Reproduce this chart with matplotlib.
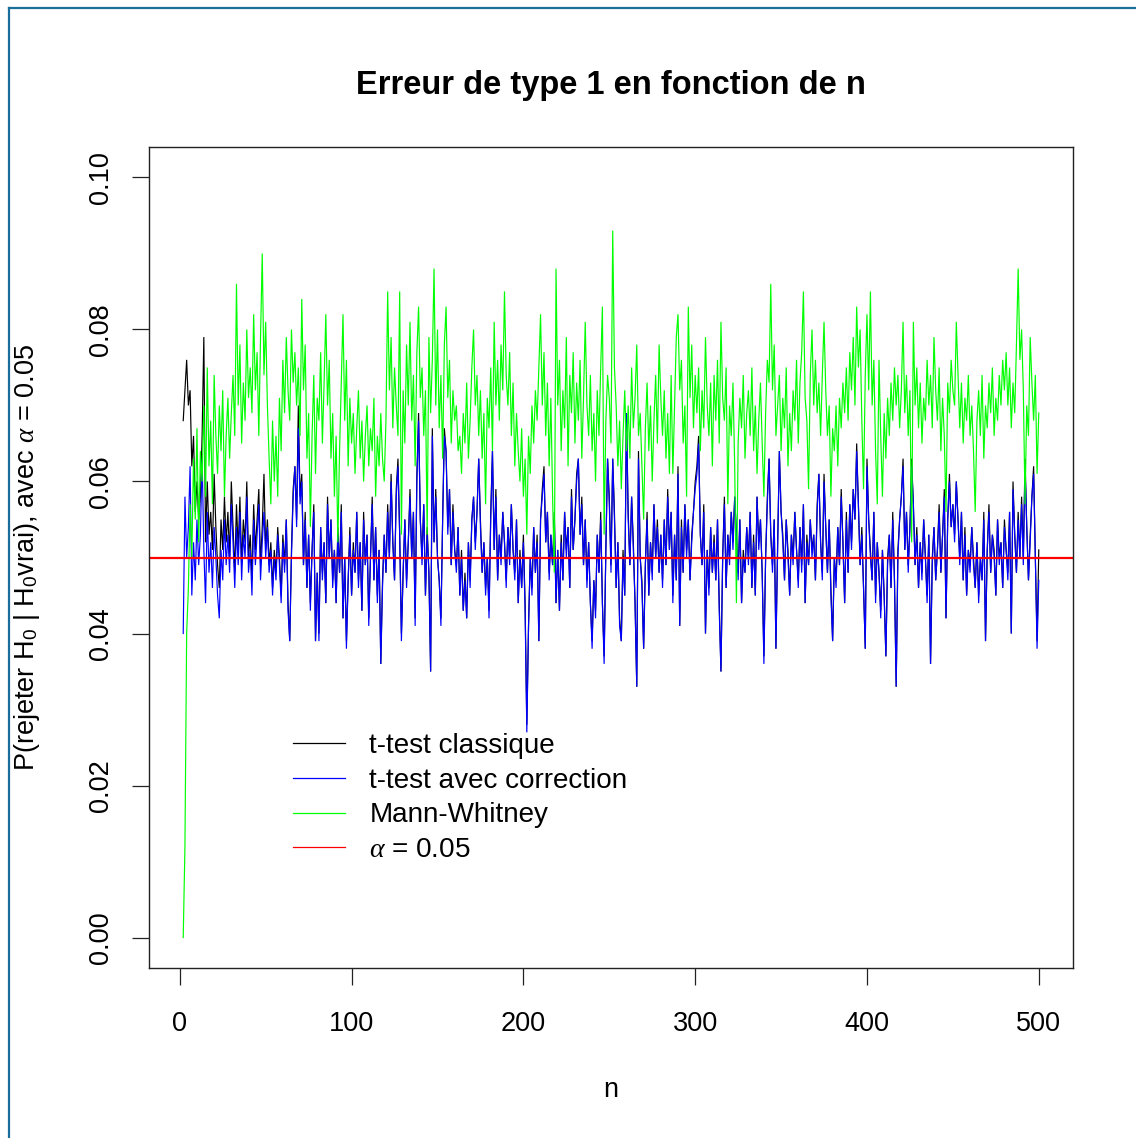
import numpy as np
import matplotlib
matplotlib.use("Agg")
import matplotlib.pyplot as plt
from matplotlib.lines import Line2D

plt.rcParams['font.family'] = ['Liberation Sans', 'DejaVu Sans']
plt.rcParams['mathtext.fontset'] = 'custom'
plt.rcParams['mathtext.rm'] = 'Liberation Sans'
plt.rcParams['mathtext.it'] = 'Liberation Serif:italic'
plt.rcParams['mathtext.bf'] = 'Liberation Sans:bold'

# ---- data (rejection rates per 1000 simulations, n = 2 .. 500) ----
mann_whitney = [
    0, 12, 40, 46, 57, 50, 63, 55, 67,
    52, 64, 60, 70, 58, 75, 62, 68, 57, 74,
    66, 61, 70, 64, 72, 58, 66, 71, 63, 69,
    74, 66, 86, 70, 78, 65, 73, 68, 80, 71,
    75, 69, 82, 72, 77, 66, 79, 90, 74, 81,
    70, 63, 57, 68, 60, 66, 58, 71, 64, 76,
    69, 79, 72, 68, 80, 73, 77, 70, 75, 66,
    84, 72, 78, 63, 69, 54, 66, 74, 61, 71,
    68, 77, 65, 73, 82, 70, 76, 63, 69, 58,
    66, 52, 64, 73, 82, 68, 76, 62, 71, 65,
    69, 61, 67, 72, 63, 68, 60, 66, 70, 62,
    67, 64, 71, 58, 66, 62, 69, 63, 60, 68,
    85, 72, 79, 67, 75, 70, 66, 85, 53, 72,
    65, 78, 70, 81, 68, 74, 62, 77, 83, 71,
    75, 66, 72, 53, 79, 69, 76, 88, 70, 80,
    67, 74, 63, 78, 83, 71, 76, 65, 72, 68,
    70, 64, 66, 61, 69, 65, 73, 63, 68, 75,
    80, 70, 74, 66, 72, 63, 69, 57, 71, 67,
    75, 64, 81, 70, 76, 68, 78, 72, 85, 74,
    70, 77, 66, 73, 62, 69, 64, 60, 67, 58,
    63, 53, 66, 61, 70, 65, 72, 68, 75, 82,
    70, 77, 66, 73, 62, 71, 58, 48, 88, 70,
    76, 64, 72, 67, 79, 62, 74, 69, 77, 65,
    73, 68, 76, 63, 71, 81, 70, 66, 74, 64,
    69, 60, 72, 66, 75, 83, 53, 68, 74, 71,
    65, 93, 75, 70, 62, 68, 59, 66, 72, 64,
    70, 63, 75, 67, 71, 78, 66, 69, 62, 55,
    67, 73, 64, 70, 60, 68, 74, 65, 78, 71,
    66, 72, 63, 69, 61, 74, 61, 70, 79, 82,
    72, 76, 65, 70, 58, 83, 71, 78, 67, 74,
    69, 75, 64, 72, 67, 79, 70, 66, 73, 62,
    74, 68, 76, 65, 81, 71, 68, 75, 57, 70,
    66, 73, 62, 44, 65, 71, 67, 74, 63, 69,
    72, 66, 75, 64, 70, 61, 68, 73, 65, 58,
    69, 76, 73, 86, 72, 78, 66, 70, 74, 64,
    71, 67, 75, 62, 69, 64, 72, 68, 76, 65,
    73, 77, 85, 71, 68, 59, 74, 80, 70, 76,
    69, 73, 66, 74, 81, 72, 66, 70, 58, 67,
    64, 70, 62, 71, 67, 73, 69, 75, 68, 77,
    72, 79, 70, 83, 75, 80, 68, 59, 74, 82,
    72, 85, 70, 76, 64, 57, 76, 66, 58, 69,
    63, 71, 66, 73, 68, 75, 70, 74, 67, 72,
    81, 69, 74, 66, 72, 52, 81, 70, 75, 67,
    73, 65, 71, 68, 76, 70, 74, 67, 79, 72,
    68, 75, 64, 71, 66, 56, 73, 69, 76, 72,
    70, 81, 74, 67, 73, 65, 71, 68, 74, 66,
    70, 64, 56, 68, 72, 66, 74, 63, 70, 67,
    73, 69, 75, 66, 71, 68, 74, 70, 76, 72,
    77, 70, 75, 67, 73, 69, 78, 88, 76, 80,
    72, 57, 70, 66, 79, 73, 68, 74, 61, 69,
]

t_correction = [
    40, 58, 50, 54, 62, 45, 52, 47, 55,
    49, 53, 63, 51, 44, 56, 48, 52, 46, 54,
    50, 45, 42, 51, 47, 55, 49, 53, 48, 57,
    52, 46, 54, 49, 56, 47, 53, 50, 58, 48,
    51, 45, 55, 49, 53, 57, 47, 52, 56, 50,
    54, 48, 51, 45, 50, 47, 53, 49, 44, 52,
    48, 55, 43, 39, 50, 58, 62, 54, 67, 57,
    60, 49, 55, 46, 53, 43, 51, 56, 39, 48,
    39, 54, 47, 52, 44, 57, 50, 55, 46, 51,
    44, 53, 48, 56, 42, 50, 38, 47, 53, 45,
    51, 48, 56, 46, 52, 43, 55, 49, 53, 41,
    50, 57, 47, 54, 44, 51, 36, 46, 53, 48,
    56, 50, 60, 52, 47, 58, 62, 53, 39, 48,
    55, 46, 52, 58, 50, 56, 41, 60, 68, 55,
    49, 57, 45, 53, 48, 35, 66, 52, 58, 50,
    47, 41, 55, 66, 64, 53, 59, 49, 56, 51,
    48, 54, 45, 50, 43, 47, 42, 52, 46, 55,
    58, 51, 56, 63, 54, 48, 52, 45, 50, 42,
    55, 64, 51, 58, 47, 53, 49, 56, 52, 46,
    54, 49, 57, 51, 47, 55, 44, 50, 46, 52,
    43, 27, 41, 50, 45, 54, 48, 52, 39, 55,
    58, 61, 52, 56, 47, 53, 49, 55, 44, 51,
    43, 52, 47, 56, 50, 54, 46, 58, 51, 55,
    60, 63, 53, 57, 49, 55, 46, 52, 44, 38,
    47, 42, 53, 48, 55, 44, 36, 51, 63, 57,
    48, 63, 55, 46, 52, 41, 39, 50, 45, 69,
    55, 49, 58, 51, 44, 33, 63, 50, 46, 38,
    49, 55, 45, 52, 47, 57, 50, 54, 48, 53,
    46, 55, 49, 58, 51, 56, 44, 53, 47, 61,
    41, 54, 48, 57, 50, 55, 47, 52, 56, 59,
    61, 65, 53, 49, 56, 40, 51, 45, 54, 48,
    52, 47, 55, 43, 35, 50, 57, 46, 53, 49,
    56, 51, 58, 53, 47, 55, 44, 50, 48, 54,
    49, 56, 46, 52, 45, 58, 51, 55, 48, 36,
    50, 57, 63, 53, 48, 55, 38, 51, 64, 56,
    52, 47, 55, 50, 45, 53, 49, 56, 51, 46,
    54, 48, 57, 44, 52, 49, 55, 50, 53, 47,
    56, 61, 52, 47, 60, 54, 48, 55, 45, 39,
    50, 46, 54, 49, 58, 52, 44, 55, 48, 57,
    51, 59, 55, 64, 57, 49, 53, 46, 38, 62,
    55, 50, 47, 56, 44, 52, 48, 42, 51, 45,
    37, 49, 53, 46, 55, 47, 33, 50, 55, 58,
    62, 51, 56, 48, 54, 62, 57, 49, 53, 46,
    52, 47, 55, 50, 44, 53, 36, 49, 54, 47,
    51, 56, 48, 53, 58, 42, 55, 60, 54, 57,
    52, 60, 55, 49, 56, 47, 53, 45, 51, 48,
    54, 49, 46, 52, 44, 50, 47, 55, 39, 51,
    56, 48, 53, 50, 45, 55, 49, 52, 46, 54,
    51, 47, 56, 40, 59, 53, 48, 55, 50, 57,
    49, 62, 54, 47, 52, 58, 61, 50, 38, 47,
]

t_classique = [
    68, 72, 76, 70, 72, 62, 66, 56, 60,
    55, 58, 66, 79, 52, 60, 53, 56, 51, 61,
    54, 49, 46, 55, 51, 58, 52, 56, 50, 60,
    54, 48, 57, 51, 58, 49, 55, 52, 60, 50,
    53, 47, 57, 51, 55, 59, 49, 54, 61, 51,
    55, 49, 52, 46, 51, 48, 54, 50, 45, 53,
    49, 55, 44, 39, 51, 59, 62, 55, 70, 58,
    61, 49, 56, 46, 53, 44, 51, 57, 39, 48,
    40, 54, 48, 52, 44, 58, 50, 55, 47, 51,
    44, 54, 48, 57, 42, 50, 39, 47, 54, 45,
    52, 48, 56, 47, 52, 43, 56, 49, 53, 42,
    50, 58, 47, 54, 45, 51, 36, 47, 53, 48,
    57, 50, 61, 52, 47, 59, 63, 53, 40, 48,
    55, 47, 52, 59, 50, 56, 42, 61, 69, 55,
    50, 57, 45, 54, 48, 35, 67, 52, 59, 50,
    47, 42, 55, 67, 64, 54, 59, 49, 57, 51,
    49, 54, 45, 51, 43, 48, 42, 52, 47, 55,
    58, 52, 56, 63, 55, 48, 52, 46, 50, 43,
    56, 64, 51, 59, 47, 53, 50, 56, 52, 47,
    54, 50, 57, 51, 48, 55, 44, 51, 46, 53,
    44, 28, 41, 50, 46, 54, 48, 53, 39, 55,
    59, 62, 52, 56, 48, 53, 49, 56, 44, 51,
    43, 53, 47, 56, 51, 54, 46, 59, 51, 55,
    61, 63, 53, 58, 49, 55, 47, 52, 44, 39,
    47, 43, 53, 48, 56, 44, 37, 51, 63, 58,
    49, 63, 56, 46, 52, 42, 39, 51, 45, 69,
    56, 49, 58, 52, 44, 33, 64, 50, 47, 38,
    49, 56, 45, 52, 48, 57, 50, 55, 48, 53,
    47, 55, 49, 59, 51, 56, 45, 53, 47, 62,
    41, 55, 48, 57, 51, 55, 47, 53, 56, 60,
    62, 66, 53, 49, 57, 40, 51, 46, 54, 48,
    53, 47, 55, 44, 35, 50, 58, 46, 53, 50,
    56, 52, 58, 53, 48, 55, 44, 51, 48, 54,
    50, 56, 46, 53, 45, 58, 52, 55, 48, 37,
    50, 58, 63, 53, 49, 55, 38, 52, 64, 56,
    53, 47, 55, 51, 45, 53, 50, 56, 51, 47,
    54, 49, 57, 44, 53, 49, 55, 51, 53, 47,
    57, 61, 52, 48, 61, 54, 48, 55, 46, 39,
    50, 47, 54, 49, 59, 52, 44, 56, 48, 57,
    52, 59, 55, 65, 57, 49, 54, 46, 38, 63,
    55, 51, 47, 56, 45, 52, 48, 43, 51, 45,
    37, 50, 53, 46, 56, 47, 33, 51, 55, 58,
    63, 51, 56, 49, 54, 63, 57, 49, 54, 46,
    52, 48, 55, 50, 45, 53, 36, 50, 54, 47,
    51, 57, 48, 53, 59, 42, 55, 61, 54, 57,
    53, 60, 55, 50, 56, 47, 54, 45, 51, 49,
    54, 50, 46, 52, 45, 50, 47, 56, 39, 51,
    57, 48, 53, 51, 45, 55, 50, 52, 46, 55,
    51, 48, 56, 40, 60, 53, 48, 56, 50, 58,
    50, 63, 54, 47, 53, 58, 62, 50, 39, 51,
]

n_min = 2
alpha_level = 0.05
x_ticks = [0, 100, 200, 300, 400, 500]
y_ticks = [0.00, 0.02, 0.04, 0.06, 0.08, 0.10]
legend_labels = ["t-test classique", "t-test avec correction", "Mann-Whitney", r"$\mathit{\alpha}$ = 0.05"]

# ---- figure ----
W, H = 1136, 1138
fig = plt.figure(figsize=(W / 100, H / 100), dpi=100)
L, R, T, B = 149, 1073, 147, 968
ax = fig.add_axes([L / W, 1 - B / H, (R - L) / W, (B - T) / H])

def series(v):
    v = np.asarray(v, dtype=float) / 1000.0
    return np.arange(n_min, n_min + len(v)), v

lw = 0.85
x, y = series(t_classique)
ax.plot(x, y, color='black', lw=lw, solid_joinstyle='miter')
x, y = series(t_correction)
ax.plot(x, y, color='#0000FF', lw=lw, solid_joinstyle='miter')
x, y = series(mann_whitney)
ax.plot(x, y, color='#00FF00', lw=lw, solid_joinstyle='miter')
ax.axhline(alpha_level, color='#FF0000', lw=1.6)

ax.set_xlim(n_min - 0.04 * 498, 500 + 0.04 * 498)
ax.set_ylim(-0.004, 0.104)
ax.set_xticks(x_ticks)
ax.set_xticklabels([str(t) for t in x_ticks])
ax.set_yticks(y_ticks)
ax.set_yticklabels([f"{t:.2f}" for t in y_ticks], rotation=90, va='center')

for s in ax.spines.values():
    s.set_linewidth(1.0)
    s.set_color('#222222')
ax.tick_params(axis='both', direction='out', length=12, width=0.9,
               labelsize=19.5, color='#222222')
ax.tick_params(axis='x', pad=19)
ax.tick_params(axis='y', pad=13)

ax.set_title("Erreur de type 1 en fonction de n", fontsize=23.5, fontweight='bold', pad=38)
ax.set_xlabel("n", fontsize=19.5, labelpad=29)
ax.set_ylabel(r"P(rejeter H$_0$ | H$_0$vrai), avec $\mathit{\alpha}$ = 0.05", fontsize=19.5, labelpad=33)

handles = [Line2D([], [], color='black', lw=0.9),
           Line2D([], [], color='#0000FF', lw=0.9),
           Line2D([], [], color='#00FF00', lw=0.9),
           Line2D([], [], color='#FF0000', lw=0.9)]
leg = ax.legend(handles, legend_labels, loc='upper left', frameon=False,
                fontsize=20.1, handlelength=1.87, handletextpad=0.86,
                labelspacing=0.31, borderaxespad=0,
                bbox_to_anchor=(282 / W, 1 - 722 / H), bbox_transform=fig.transFigure)

# outer frame lines (left and top edge of the image)
fig.add_artist(Line2D([9 / W, 9 / W], [0, 1 - 8 / H], transform=fig.transFigure,
                      color='#1a6e9c', lw=1.6))
fig.add_artist(Line2D([9 / W, 1], [1 - 8 / H, 1 - 8 / H], transform=fig.transFigure,
                      color='#1a6e9c', lw=1.6))

fig.savefig("out.png", dpi=100)
